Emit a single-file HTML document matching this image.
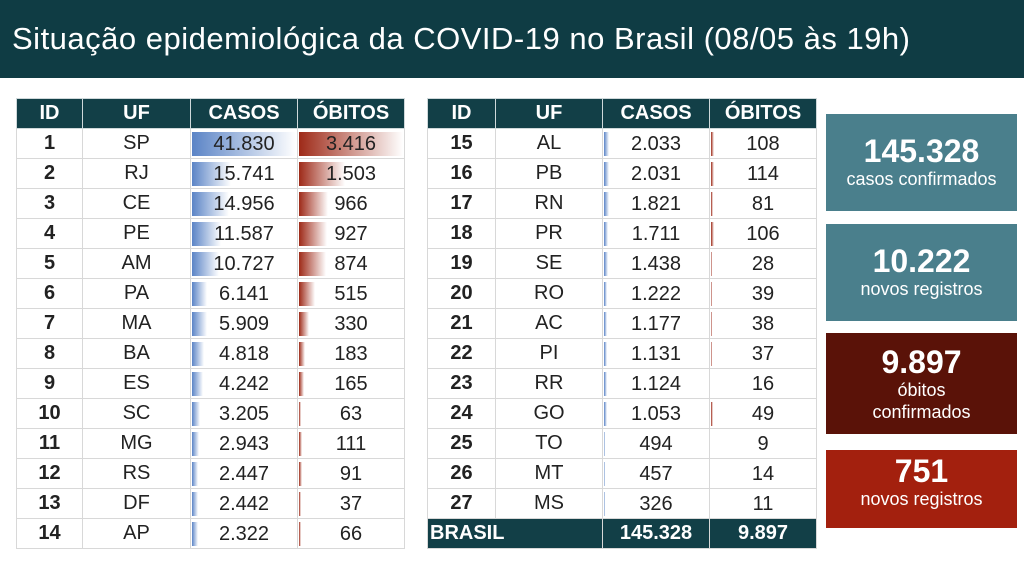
<!DOCTYPE html>
<html><head><meta charset="utf-8"><style>
*{margin:0;padding:0;box-sizing:border-box}
body{width:1024px;height:567px;background:#fff;position:relative;overflow:hidden;font-family:"Liberation Sans",sans-serif}
.hdr{position:absolute;left:0;top:0;width:1024px;height:78px;background:#0f3c44;color:#fff;font-size:31px;line-height:78px;padding-left:12px;letter-spacing:0.5px}
table{position:absolute;border-collapse:collapse;table-layout:fixed;font-size:20px;color:#222}
td,th{height:30px;border:1px solid #d8d8d8;text-align:center;padding:0;position:relative}
th{background:#123f47;color:#fff;font-weight:bold;border-color:#cfd8da}
td:first-child{font-weight:bold}
.c{position:relative;height:24px;line-height:24px}
.b{position:absolute;left:1px;top:0;height:24px;background:linear-gradient(to right,#5b84c6,#fff)}
.r{position:absolute;left:1px;top:0;height:24px;background:linear-gradient(to right,#9e2a18,#fff)}
.c span{position:relative}
.tot td{background:#123f47;color:#fff;font-weight:bold}
.box{position:absolute;left:826px;width:191px;color:#fff;text-align:center}
.big{font-size:32px;font-weight:bold;line-height:34px}
.sm{font-size:18px;line-height:22px}
</style></head><body>
<div class="hdr">Situação epidemiológica da COVID-19 no Brasil (08/05 às 19h)</div>

<table style="left:16px;top:98px;width:388px">
<colgroup><col style="width:66px"><col style="width:108px"><col style="width:107px"><col style="width:107px"></colgroup>
<tr><th>ID</th><th>UF</th><th>CASOS</th><th>ÓBITOS</th></tr>
<tr><td>1</td><td>SP</td><td><div class="c"><div class="b" style="width:104px"></div><span>41.830</span></div></td><td><div class="c"><div class="r" style="width:104px"></div><span>3.416</span></div></td></tr>
<tr><td>2</td><td>RJ</td><td><div class="c"><div class="b" style="width:39px"></div><span>15.741</span></div></td><td><div class="c"><div class="r" style="width:46px"></div><span>1.503</span></div></td></tr>
<tr><td>3</td><td>CE</td><td><div class="c"><div class="b" style="width:37px"></div><span>14.956</span></div></td><td><div class="c"><div class="r" style="width:29px"></div><span>966</span></div></td></tr>
<tr><td>4</td><td>PE</td><td><div class="c"><div class="b" style="width:29px"></div><span>11.587</span></div></td><td><div class="c"><div class="r" style="width:28px"></div><span>927</span></div></td></tr>
<tr><td>5</td><td>AM</td><td><div class="c"><div class="b" style="width:27px"></div><span>10.727</span></div></td><td><div class="c"><div class="r" style="width:27px"></div><span>874</span></div></td></tr>
<tr><td>6</td><td>PA</td><td><div class="c"><div class="b" style="width:15px"></div><span>6.141</span></div></td><td><div class="c"><div class="r" style="width:16px"></div><span>515</span></div></td></tr>
<tr><td>7</td><td>MA</td><td><div class="c"><div class="b" style="width:15px"></div><span>5.909</span></div></td><td><div class="c"><div class="r" style="width:10px"></div><span>330</span></div></td></tr>
<tr><td>8</td><td>BA</td><td><div class="c"><div class="b" style="width:12px"></div><span>4.818</span></div></td><td><div class="c"><div class="r" style="width:6px"></div><span>183</span></div></td></tr>
<tr><td>9</td><td>ES</td><td><div class="c"><div class="b" style="width:11px"></div><span>4.242</span></div></td><td><div class="c"><div class="r" style="width:5px"></div><span>165</span></div></td></tr>
<tr><td>10</td><td>SC</td><td><div class="c"><div class="b" style="width:8px"></div><span>3.205</span></div></td><td><div class="c"><div class="r" style="width:2px"></div><span>63</span></div></td></tr>
<tr><td>11</td><td>MG</td><td><div class="c"><div class="b" style="width:7px"></div><span>2.943</span></div></td><td><div class="c"><div class="r" style="width:3px"></div><span>111</span></div></td></tr>
<tr><td>12</td><td>RS</td><td><div class="c"><div class="b" style="width:6px"></div><span>2.447</span></div></td><td><div class="c"><div class="r" style="width:3px"></div><span>91</span></div></td></tr>
<tr><td>13</td><td>DF</td><td><div class="c"><div class="b" style="width:6px"></div><span>2.442</span></div></td><td><div class="c"><div class="r" style="width:2px"></div><span>37</span></div></td></tr>
<tr><td>14</td><td>AP</td><td><div class="c"><div class="b" style="width:6px"></div><span>2.322</span></div></td><td><div class="c"><div class="r" style="width:2px"></div><span>66</span></div></td></tr>
</table>

<table style="left:427px;top:98px;width:389px">
<colgroup><col style="width:68px"><col style="width:107px"><col style="width:107px"><col style="width:107px"></colgroup>
<tr><th>ID</th><th>UF</th><th>CASOS</th><th>ÓBITOS</th></tr>
<tr><td>15</td><td>AL</td><td><div class="c"><div class="b" style="width:5px"></div><span>2.033</span></div></td><td><div class="c"><div class="r" style="width:3px"></div><span>108</span></div></td></tr>
<tr><td>16</td><td>PB</td><td><div class="c"><div class="b" style="width:5px"></div><span>2.031</span></div></td><td><div class="c"><div class="r" style="width:3px"></div><span>114</span></div></td></tr>
<tr><td>17</td><td>RN</td><td><div class="c"><div class="b" style="width:5px"></div><span>1.821</span></div></td><td><div class="c"><div class="r" style="width:2px"></div><span>81</span></div></td></tr>
<tr><td>18</td><td>PR</td><td><div class="c"><div class="b" style="width:4px"></div><span>1.711</span></div></td><td><div class="c"><div class="r" style="width:3px"></div><span>106</span></div></td></tr>
<tr><td>19</td><td>SE</td><td><div class="c"><div class="b" style="width:4px"></div><span>1.438</span></div></td><td><div class="c"><div class="r" style="width:1px"></div><span>28</span></div></td></tr>
<tr><td>20</td><td>RO</td><td><div class="c"><div class="b" style="width:3px"></div><span>1.222</span></div></td><td><div class="c"><div class="r" style="width:1px"></div><span>39</span></div></td></tr>
<tr><td>21</td><td>AC</td><td><div class="c"><div class="b" style="width:3px"></div><span>1.177</span></div></td><td><div class="c"><div class="r" style="width:1px"></div><span>38</span></div></td></tr>
<tr><td>22</td><td>PI</td><td><div class="c"><div class="b" style="width:3px"></div><span>1.131</span></div></td><td><div class="c"><div class="r" style="width:1px"></div><span>37</span></div></td></tr>
<tr><td>23</td><td>RR</td><td><div class="c"><div class="b" style="width:3px"></div><span>1.124</span></div></td><td><div class="c"><span>16</span></div></td></tr>
<tr><td>24</td><td>GO</td><td><div class="c"><div class="b" style="width:3px"></div><span>1.053</span></div></td><td><div class="c"><div class="r" style="width:2px"></div><span>49</span></div></td></tr>
<tr><td>25</td><td>TO</td><td><div class="c"><div class="b" style="width:1px"></div><span>494</span></div></td><td><div class="c"><span>9</span></div></td></tr>
<tr><td>26</td><td>MT</td><td><div class="c"><div class="b" style="width:1px"></div><span>457</span></div></td><td><div class="c"><span>14</span></div></td></tr>
<tr><td>27</td><td>MS</td><td><div class="c"><div class="b" style="width:1px"></div><span>326</span></div></td><td><div class="c"><span>11</span></div></td></tr>
<tr class="tot"><td colspan="2" style="text-align:left;padding-left:2px">BRASIL</td><td>145.328</td><td>9.897</td></tr>
</table>

<div class="box" style="top:114px;height:97px;background:#4a7f8c;padding-top:20px"><div class="big">145.328</div><div class="sm">casos confirmados</div></div>
<div class="box" style="top:224px;height:97px;background:#4a7f8c;padding-top:20px"><div class="big">10.222</div><div class="sm">novos registros</div></div>
<div class="box" style="top:333px;height:101px;background:#5a1208;padding-top:12px"><div class="big">9.897</div><div class="sm">óbitos<br>confirmados</div></div>
<div class="box" style="top:450px;height:78px;background:#a3200e;padding-top:4px"><div class="big">751</div><div class="sm">novos registros</div></div>
</body></html>
